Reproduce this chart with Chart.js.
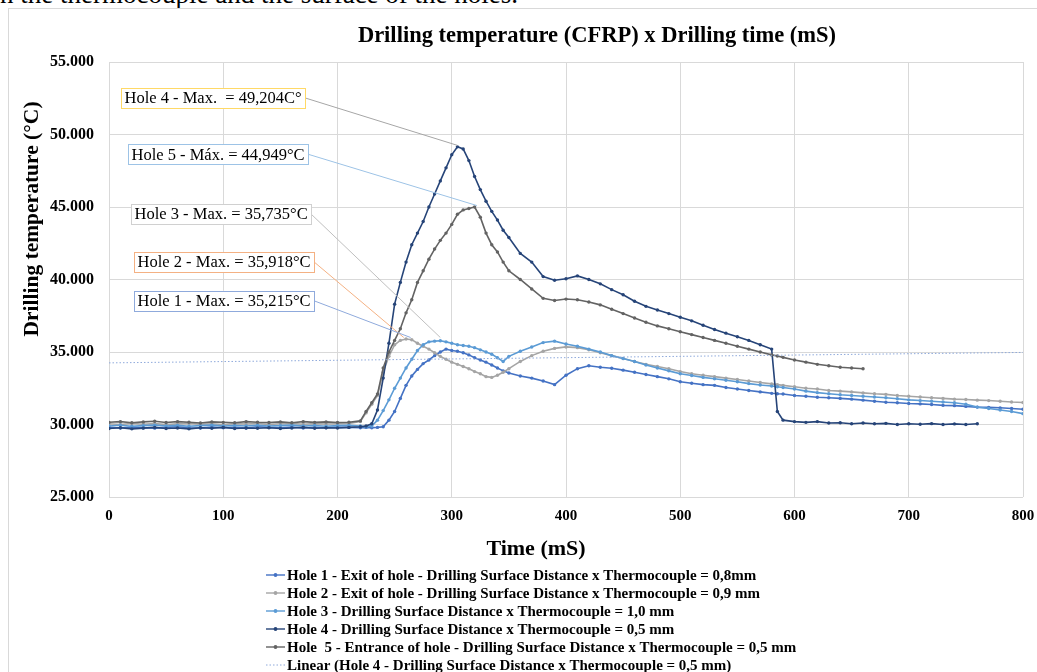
<!DOCTYPE html>
<html>
<head>
<meta charset="utf-8">
<script src="https://cdn.jsdelivr.net/npm/chart.js@4.4.1/dist/chart.umd.min.js"></script>
<style>
html,body{margin:0;padding:0;background:#fff;overflow:hidden;width:1037px;height:672px;}
#doc{position:absolute;left:0;top:-19px;font:27px "Liberation Serif",serif;line-height:27px;white-space:nowrap;color:#000;}
#frame{position:absolute;left:8px;top:8px;width:1100px;height:720px;border:1px solid #D9D9D9;box-sizing:border-box;}
#wrap{position:absolute;left:0;top:0;width:1037px;height:672px;}
</style>
</head>
<body>
<div id="doc">n the thermocouple and the surface of the holes.</div>
<div id="frame"></div>
<div id="wrap"><canvas id="c" width="1037" height="672"></canvas></div>
<script>
// ---- data (time in mS, temperature in °C) ----
const times = [
  0,10,20,30,40,50,60,70,80,90,100,110,120,130,140,150,160,170,180,190,200,210,220,
  225,230,235,240,245,250,255,260,265,270,275,280,285,290,295,300,305,310,315,320,325,330,335,340,345,350,
  360,370,380,390,400,410,420,430,440,450,460,470,480,490,500,510,520,530,540,550,560,570,580,
  585,
  590,600,610,620,630,640,650,660,670,680,690,700,710,720,730,740,750,760,770,780,790,800
];
const hole1 = [
  29.80,29.76,29.82,29.78,29.75,29.80,29.84,29.78,29.76,29.82,29.78,29.80,29.76,29.84,29.80,29.78,29.82,29.76,29.80,29.78,29.82,29.80,29.78,
  29.80,29.78,29.80,29.85,30.30,30.90,31.80,32.70,33.35,33.80,34.20,34.45,34.75,35.00,35.20,35.10,35.05,34.95,34.80,34.60,34.45,34.30,34.10,33.90,33.70,33.55,
  33.35,33.20,33.00,32.75,33.40,33.85,34.05,33.95,33.88,33.75,33.60,33.45,33.30,33.15,32.95,32.85,32.75,32.70,32.55,32.45,32.35,32.25,32.15,
  32.12,
  32.10,32.00,31.95,31.88,31.85,31.80,31.75,31.68,31.60,31.53,31.50,31.45,31.42,31.38,31.32,31.30,31.25,31.20,31.18,31.15,31.10,31.05
];
const hole2 = [
  30.05,30.00,30.08,30.02,30.06,30.00,30.04,30.08,30.02,30.05,30.00,30.06,30.03,30.07,30.01,30.05,30.08,30.02,30.06,30.03,30.05,30.08,30.20,
  30.80,31.40,32.00,33.60,34.70,35.50,35.80,35.90,35.85,35.60,35.40,35.20,34.95,34.70,34.50,34.30,34.15,34.00,33.85,33.65,33.50,33.30,33.25,33.40,33.60,33.85,
  34.35,34.75,35.05,35.25,35.35,35.30,35.15,34.95,34.75,34.55,34.35,34.15,34.00,33.85,33.65,33.50,33.40,33.30,33.20,33.10,33.00,32.90,32.80,
  32.75,
  32.70,32.60,32.50,32.45,32.35,32.30,32.25,32.18,32.12,32.08,32.00,31.95,31.90,31.85,31.80,31.75,31.72,31.68,31.65,31.60,31.55,31.52
];
const hole3 = [
  29.90,29.95,29.88,29.92,29.96,29.90,29.94,29.88,29.92,29.96,29.90,29.93,29.90,29.95,29.90,29.92,29.96,29.90,29.93,29.88,29.92,29.95,29.90,
  29.85,29.90,30.30,30.96,31.70,32.50,33.20,33.90,34.50,35.10,35.50,35.70,35.75,35.78,35.70,35.60,35.50,35.45,35.40,35.30,35.15,35.00,34.85,34.60,34.35,34.70,
  35.05,35.35,35.65,35.75,35.55,35.40,35.20,35.00,34.75,34.55,34.35,34.10,33.90,33.70,33.50,33.38,33.25,33.15,33.05,32.95,32.82,32.72,32.65,
  32.60,
  32.55,32.45,32.30,32.20,32.12,32.05,32.00,31.95,31.90,31.85,31.78,31.70,31.65,31.60,31.55,31.50,31.40,31.20,31.10,31.00,30.90,30.75
];
const hole4 = [
  29.72,29.78,29.70,29.75,29.80,29.72,29.76,29.70,29.78,29.74,29.80,29.72,29.76,29.74,29.78,29.72,29.76,29.80,29.74,29.78,29.76,29.80,29.85,
  29.90,30.05,31.00,33.20,35.60,38.30,39.80,41.20,42.40,43.20,44.00,45.00,45.90,46.80,47.70,48.60,49.15,49.00,48.20,47.10,46.20,45.40,44.70,44.10,43.40,42.90,
  41.80,41.20,40.20,39.95,40.05,40.25,40.00,39.70,39.30,38.95,38.50,38.15,37.90,37.65,37.40,37.15,36.85,36.55,36.30,36.05,35.80,35.50,35.20,
  30.90,
  30.30,30.20,30.15,30.20,30.10,30.12,30.05,30.10,30.05,30.08,30.00,30.05,30.02,30.06,30.00,30.04,30.00,30.05,null,null,null,null
];
const hole5 = [
  30.15,30.20,30.12,30.18,30.22,30.14,30.20,30.16,30.10,30.18,30.15,30.12,30.20,30.16,30.14,30.18,30.12,30.20,30.15,30.18,30.14,30.16,30.25,
  30.90,31.50,32.10,33.90,35.00,35.80,36.60,37.70,38.60,39.80,40.60,41.40,42.10,42.70,43.20,43.80,44.50,44.80,44.90,45.00,44.30,43.20,42.40,41.90,41.20,40.60,
  40.00,39.35,38.70,38.55,38.65,38.60,38.45,38.25,37.95,37.65,37.35,37.05,36.80,36.60,36.40,36.20,36.00,35.80,35.60,35.40,35.20,35.00,34.80,
  34.72,
  34.63,34.45,34.30,34.15,34.05,33.95,33.90,33.85,null,null,null,null,null,null,null,null,null,null,null,null,null,null
];
// linear trendline of Hole 4 (end points)
const trendX = [0, 800];
const trendY = [34.25, 34.97];

const seriesLabels = [
  'Hole 1 - Exit of hole - Drilling Surface Distance x Thermocouple = 0,8mm',
  'Hole 2 - Exit of hole - Drilling Surface Distance x Thermocouple = 0,9 mm',
  'Hole 3 - Drilling Surface Distance x Thermocouple = 1,0 mm',
  'Hole 4 - Drilling Surface Distance x Thermocouple = 0,5 mm',
  'Hole  5 - Entrance of hole - Drilling Surface Distance x Thermocouple = 0,5 mm'
];
const trendLabel = 'Linear (Hole 4 - Drilling Surface Distance x Thermocouple = 0,5 mm)';
const seriesColors = ['#4472C4', '#A5A5A5', '#5B9BD5', '#264478', '#636363'];
const trendColor = '#8EA9DB';

const xTicks = [0,100,200,300,400,500,600,700,800];
const xTickLabels = ['0','100','200','300','400','500','600','700','800'];
const yTicks = [25,30,35,40,45,50,55];
const yTickLabels = ['25.000','30.000','35.000','40.000','45.000','50.000','55.000'];

const chartTitle = 'Drilling temperature (CFRP) x Drilling time (mS)';
const xTitle = 'Time (mS)';
const yTitle = 'Drilling temperature (°C)';

// data labels (callouts): box anchor (left-middle) and tip, in data units
const annLabels = ['Hole 4 - Max.  = 49,204C°','Hole 5 - Máx. = 44,949°C','Hole 3 - Max. = 35,735°C','Hole 2 - Max. = 35,918°C','Hole 1 - Max. = 35,215°C'];
const annBoxX = [10.5, 16.6, 19.3, 21.9, 21.9];
const annBoxY = [52.52, 48.64, 44.51, 41.21, 38.53];
const annTipX = [305, 322, 290, 258, 264];
const annTipY = [49.25, 45.1, 36.0, 36.0, 36.0];
const annBorder = ['#FFD966','#9DC3E6','#D0D0D0','#F4B183','#8FAADC'];
const annLine = ['#A6A6A6','#9DC3E6','#BFBFBF','#F4B183','#8FAADC'];

// ---- chart ----
const SERIF = '"Liberation Serif", "Times New Roman", serif';
Chart.defaults.font.family = SERIF;
const allSeries = [hole1, hole2, hole3, hole4, hole5];
const toPts = ys => times.map((t, i) => ({x: t, y: ys[i]}));

const datasets = allSeries.map((ys, i) => ({
  label: seriesLabels[i],
  data: toPts(ys),
  borderColor: seriesColors[i],
  backgroundColor: seriesColors[i],
  pointBackgroundColor: seriesColors[i],
  pointBorderWidth: 0,
  pointRadius: 1.7,
  borderWidth: 1.6,
  tension: 0,
  spanGaps: false,
  order: 5 - i
}));
datasets.push({
  label: trendLabel,
  data: trendX.map((x, i) => ({x: x, y: trendY[i]})),
  borderColor: trendColor,
  borderWidth: 1,
  borderDash: [1.5, 2],
  pointRadius: 0,
  order: -1
});

const decor = {
  id: 'decor',
  afterDatasetsDraw(chart) {
    const ctx = chart.ctx, xs = chart.scales.x, ys = chart.scales.y;
    ctx.save();
    ctx.font = '16.5px ' + SERIF;
    ctx.textBaseline = 'middle';
    ctx.textAlign = 'left';
    for (let i = 0; i < annLabels.length; i++) {
      const bx = xs.getPixelForValue(annBoxX[i]);
      const by = ys.getPixelForValue(annBoxY[i]);
      const w = ctx.measureText(annLabels[i]).width + 7;
      const h = 20;
      ctx.strokeStyle = annLine[i];
      ctx.lineWidth = 1;
      ctx.beginPath();
      ctx.moveTo(bx + w, by);
      ctx.lineTo(xs.getPixelForValue(annTipX[i]), ys.getPixelForValue(annTipY[i]));
      ctx.stroke();
      ctx.fillStyle = '#fff';
      ctx.fillRect(bx, by - h / 2, w, h);
      ctx.strokeStyle = annBorder[i];
      ctx.strokeRect(Math.round(bx) + 0.5, Math.round(by - h / 2) + 0.5, Math.round(w), h);
      ctx.fillStyle = '#000';
      ctx.fillText(annLabels[i], bx + 3.5, by + 1);
    }
    ctx.restore();
  },
  afterDraw(chart) {
    const ctx = chart.ctx;
    ctx.save();
    ctx.fillStyle = '#000';
    ctx.textBaseline = 'middle';
    // title
    ctx.textAlign = 'center';
    ctx.font = 'bold 22.5px ' + SERIF;
    ctx.fillText(chartTitle, 597, 36);
    // x title
    ctx.font = 'bold 22px ' + SERIF;
    ctx.fillText(xTitle, 536, 549);
    // y title
    ctx.save();
    ctx.translate(32, 219);
    ctx.rotate(-Math.PI / 2);
    ctx.font = 'bold 21.5px ' + SERIF;
    ctx.fillText(yTitle, 0, 0);
    ctx.restore();
    // legend
    ctx.textAlign = 'left';
    ctx.font = 'bold 15px ' + SERIF;
    const items = chart.data.datasets;
    for (let i = 0; i < items.length; i++) {
      const y = 575 + i * 18;
      const ds = items[i];
      ctx.strokeStyle = ds.borderColor;
      ctx.lineWidth = ds.pointRadius ? 1.4 : 1;
      ctx.setLineDash(ds.borderDash || []);
      ctx.beginPath();
      ctx.moveTo(266, y);
      ctx.lineTo(285, y);
      ctx.stroke();
      ctx.setLineDash([]);
      if (ds.pointRadius) {
        ctx.fillStyle = ds.borderColor;
        ctx.beginPath();
        ctx.arc(275.5, y, 1.9, 0, Math.PI * 2);
        ctx.fill();
      }
      ctx.fillStyle = '#000';
      ctx.fillText(ds.label, 287, y + 1);
    }
    ctx.restore();
  }
};

new Chart(document.getElementById('c'), {
  type: 'line',
  data: {datasets: datasets},
  plugins: [decor],
  options: {
    responsive: false,
    animation: false,
    events: [],
    layout: {padding: {left: 0, top: 62, right: 14, bottom: 145}},
    plugins: {legend: {display: false}, title: {display: false}, tooltip: {enabled: false}},
    scales: {
      x: {
        type: 'linear', min: 0, max: 800,
        afterFit: s => { s.height = 30; s.paddingLeft = 0; s.paddingRight = 0; },
        afterBuildTicks: s => { s.ticks = xTicks.map(v => ({value: v})); },
        ticks: {
          autoSkip: false, maxRotation: 0, padding: 10, color: '#000',
          font: {size: 15, weight: 'bold', family: SERIF},
          callback: v => xTickLabels[xTicks.indexOf(v)]
        },
        grid: {color: '#D9D9D9', lineWidth: 1, drawTicks: false},
        border: {display: false}
      },
      y: {
        min: 25, max: 55,
        afterFit: s => { s.width = 109; s.paddingTop = 0; s.paddingBottom = 0; },
        afterBuildTicks: s => { s.ticks = yTicks.map(v => ({value: v})); },
        ticks: {
          padding: 15, color: '#000',
          font: {size: 16, weight: 'bold', family: SERIF},
          callback: v => yTickLabels[yTicks.indexOf(v)]
        },
        grid: {color: '#D9D9D9', lineWidth: 1, drawTicks: false},
        border: {display: false}
      }
    }
  }
});
</script>
</body>
</html>
